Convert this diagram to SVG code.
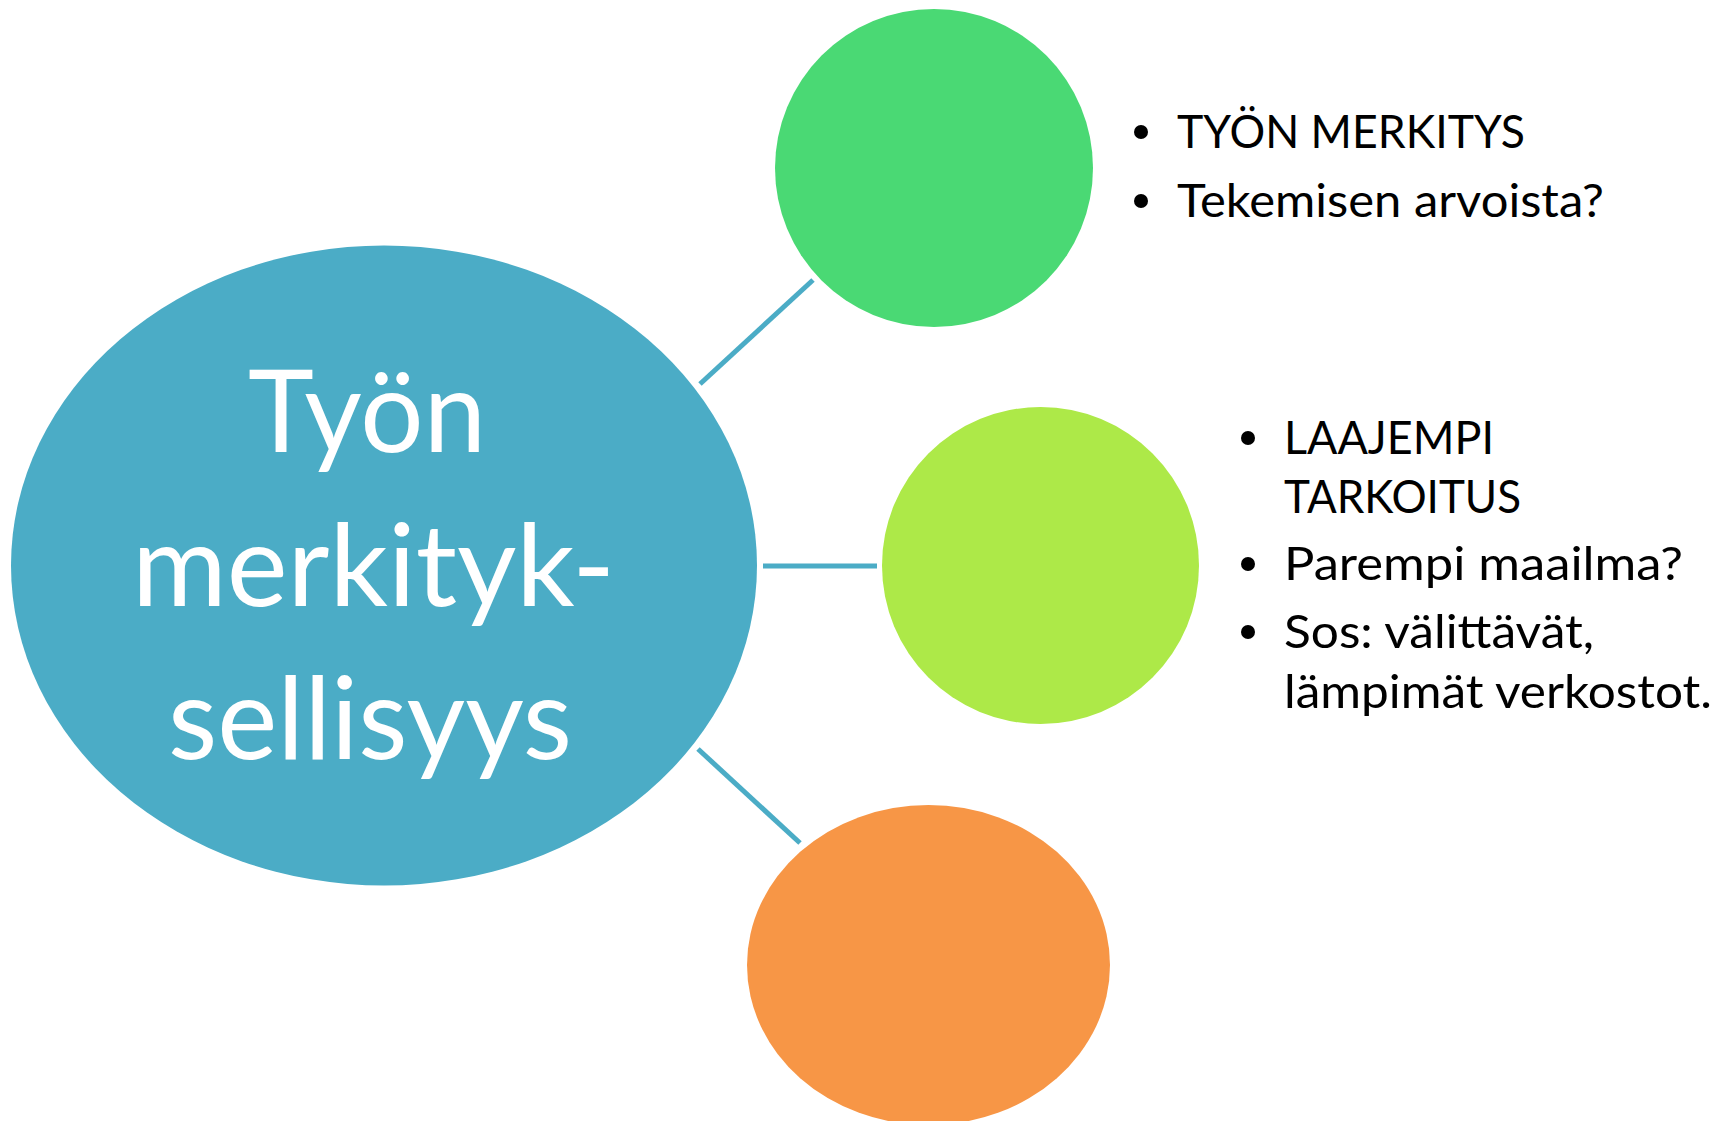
<svg xmlns="http://www.w3.org/2000/svg" width="1729" height="1121" viewBox="0 0 1729 1121">
<style>
.main{font-family:Lato,"Open Sans","Liberation Sans",sans-serif;font-size:114px;fill:#ffffff}
.lbl{font-family:Lato,"Open Sans","Liberation Sans",sans-serif;font-size:47px;fill:#000000}
.bul{fill:#000000}
.conn{stroke:#4BACC6;stroke-width:5;fill:none}
</style>
<rect width="1729" height="1121" fill="#ffffff"/>
<g id="connectors">
<line class="conn" x1="700" y1="384" x2="813" y2="280"/>
<line class="conn" x1="763" y1="566" x2="877" y2="566"/>
<line class="conn" x1="698" y1="749" x2="800" y2="843"/>
</g>
<g id="center">
<ellipse cx="384" cy="565.5" rx="373" ry="320" fill="#4BACC6"/>
<text class="main" x="248" y="452" textLength="238" lengthAdjust="spacingAndGlyphs">Työn</text>
<text class="main" x="132" y="606" textLength="483" lengthAdjust="spacingAndGlyphs">merkityk-</text>
<text class="main" x="168" y="759" textLength="404" lengthAdjust="spacingAndGlyphs">sellisyys</text>
</g>
<g id="green">
<circle cx="934" cy="168" r="159" fill="#4AD974"/>
</g>
<g id="lime">
<circle cx="1040.5" cy="565.5" r="158.5" fill="#ADE948"/>
</g>
<g id="orange">
<ellipse cx="928.5" cy="965" rx="181.5" ry="160" fill="#F79646"/>
</g>
<g id="green-text">
<circle class="bul" cx="1141" cy="132" r="7"/>
<text class="lbl" x="1177" y="148" textLength="348" lengthAdjust="spacingAndGlyphs">TYÖN MERKITYS</text>
<circle class="bul" cx="1141" cy="201" r="7"/>
<text class="lbl" x="1177" y="217" textLength="427" lengthAdjust="spacingAndGlyphs">Tekemisen arvoista?</text>
</g>
<g id="lime-text">
<circle class="bul" cx="1248" cy="438" r="7"/>
<text class="lbl" x="1284" y="454" textLength="210" lengthAdjust="spacingAndGlyphs">LAAJEMPI</text>
<text class="lbl" x="1284" y="513" textLength="237" lengthAdjust="spacingAndGlyphs">TARKOITUS</text>
<circle class="bul" cx="1248" cy="564" r="7"/>
<text class="lbl" x="1284" y="580" textLength="399" lengthAdjust="spacingAndGlyphs">Parempi maailma?</text>
<circle class="bul" cx="1248" cy="632" r="7"/>
<text class="lbl" x="1284" y="648" textLength="310" lengthAdjust="spacingAndGlyphs">Sos: välittävät,</text>
<text class="lbl" x="1284" y="708" textLength="428" lengthAdjust="spacingAndGlyphs">lämpimät verkostot.</text>
</g>
</svg>
